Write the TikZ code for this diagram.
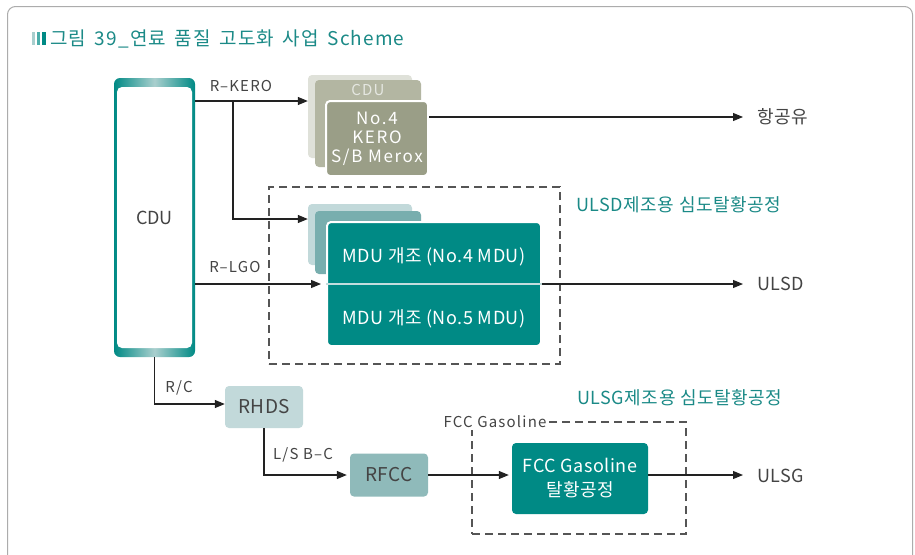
\documentclass[tikz,border=0pt]{standalone}
\usepackage{fontspec}
\setmainfont{Noto Sans CJK KR}
\newfontfamily\fLbl{Noto Sans CJK KR}[LetterSpace=8]
\newfontfamily\fMid{Noto Sans CJK KR}[LetterSpace=3]
\newfontfamily\fTitle{Noto Sans CJK KR}[LetterSpace=6,WordSpace=1.6]
\newfontfamily\fKero{Noto Sans CJK KR}[LetterSpace=10]
\usetikzlibrary{arrows.meta}
\definecolor{tealD}{HTML}{008A85}
\definecolor{tealT}{HTML}{1B8A87}
\definecolor{tealL}{HTML}{A9CFCE}
\definecolor{mback}{HTML}{C2D9DA}
\definecolor{mmid}{HTML}{78AEAE}
\definecolor{kback}{HTML}{DFE1D9}
\definecolor{kmid}{HTML}{B3B6A2}
\definecolor{kfront}{HTML}{9A9E87}
\definecolor{rfccC}{HTML}{8FBABA}
\definecolor{txt}{HTML}{444444}
\definecolor{lineC}{HTML}{222222}
\definecolor{dashC}{HTML}{555555}
\begin{document}
\begin{tikzpicture}[x=1pt,y=-1pt,
  box/.style={rectangle, rounded corners=4pt, inner sep=0pt, align=center},
  whitebox/.style={box, draw=white, line width=2pt, text=white},
  lbl/.style={inner sep=0pt, text=txt, font=\fLbl\fontsize{15}{17}\selectfont},
  outlbl/.style={inner sep=0pt, anchor=west, text=txt, font=\fMid\fontsize{18}{20}\selectfont},
  grplbl/.style={inner sep=0pt, anchor=west, text=tealT, font=\fMid\fontsize{18}{20}\selectfont},
  arr/.style={draw=lineC, line width=1.1pt, -{Triangle[length=10pt,width=8pt]}},
  grp/.style={draw=dashC, line width=1.1pt, dash pattern=on 8pt off 5pt, inner sep=0pt}]
\useasboundingbox (0,0) rectangle (915,554);
\fill[white] (0,0) rectangle (915,554);
% frame
\draw[draw=gray!65, line width=1pt, rounded corners=8pt] (7.5,560) -- (7.5,6.5) -- (912.5,6.5) -- (912.5,560);
% title
\fill[tealL] (32,32) rectangle (35,45);
\fill[tealD!70] (37,32) rectangle (40,45);
\fill[tealD] (42,32) rectangle (46,45);
\node[anchor=west, inner sep=0pt, text=tealT, font=\fTitle\fontsize{19}{21}\selectfont] (title) at (50,38.5) {그림 39\_연료 품질 고도화 사업 Scheme};
% CDU column
\node[box, rounded corners=6pt, minimum width=81pt, minimum height=279pt, left color=tealD, right color=tealD, middle color=tealL] (cdu) at (154.5,217.5) {};
\node[box, fill=white, rounded corners=5pt, minimum width=75pt, minimum height=261pt, text=txt, font=\fontsize{18}{20}\selectfont] (cduin) at (154.5,217.5) {CDU};
% kero stack
\node[box, fill=kback, minimum width=104pt, minimum height=83pt] (kback) at (360,116.5) {};
\node[box, fill=kmid, minimum width=106pt, minimum height=87pt] (kmid) at (368,123.5) {};
\node[inner sep=0pt, text=kback!80!white, font=\fLbl\fontsize{15}{17}\selectfont] (kmidlbl) at (368,90) {CDU};
\node[whitebox, fill=kfront, minimum width=102pt, minimum height=75pt, font=\fKero\fontsize{17}{19}\selectfont] (kfront) at (377,138.5) {No.4\\KERO\\S/B Merox};
% MDU stack
\node[grp, minimum width=291pt, minimum height=177pt] (ulsdgrp) at (414.5,275.5) {};
\node[box, fill=mback, minimum width=104pt, minimum height=61pt] (mback) at (360,234.5) {};
\node[box, fill=mmid, minimum width=106pt, minimum height=63pt] (mmid) at (368,242.5) {};
\node[whitebox, fill=tealD, minimum width=214pt, minimum height=124pt] (mfront) at (434,284) {};
\draw[draw=tealL!70!white, line width=1.5pt] (mfront.west) -- (mfront.east);
\node[inner sep=0pt, text=white, font=\fMid\fontsize{18}{20}\selectfont] (mdu4) at (434,257) {MDU 개조 (No.4 MDU)};
\node[inner sep=0pt, text=white, font=\fMid\fontsize{18}{20}\selectfont] (mdu5) at (434,319) {MDU 개조 (No.5 MDU)};
\node[grplbl] (ulsdlbl) at (576,205) {ULSD제조용 심도탈황공정};
% lower chain
\node[box, fill=mback, minimum width=78pt, minimum height=42pt, text=txt, font=\fMid\fontsize{19}{21}\selectfont] (rhds) at (264,407) {RHDS};
\node[box, fill=rfccC, minimum width=78pt, minimum height=43pt, text=txt, font=\fMid\fontsize{19}{21}\selectfont] (rfcc) at (389,475) {RFCC};
\node[grp, minimum width=214pt, minimum height=112pt] (ulsggrp) at (579,478) {};
\node[inner sep=2pt, fill=white, text=txt, font=\fLbl\fontsize{15}{17}\selectfont] (fccgrplbl) at (495,422) {FCC Gasoline};
\node[box, fill=tealD, text=white, minimum width=136pt, minimum height=71pt, font=\fMid\fontsize{18}{24}\selectfont] (fcc) at (580,478.5) {FCC Gasoline\\탈황공정};
\node[grplbl] (ulsglbl) at (577,398) {ULSG제조용 심도탈황공정};
% outputs
\node[outlbl] (jet) at (757,117) {항공유};
\node[outlbl] (ulsd) at (757,284) {ULSD};
\node[outlbl] (ulsg) at (757,476) {ULSG};
% connector labels
\node[lbl] (lkero) at (241,86) {R–KERO};
\node[lbl] (llgo) at (235,267) {R–LGO};
\node[lbl] (lrc) at (179,388) {R/C};
\node[lbl] (llsbc) at (303,455) {L/S B–C};
% connectors
\coordinate (kj) at (233,101);
\coordinate (mj) at (233,219);
\draw[arr] (cdu.east |- kj) -- (kback.west |- kj);
\draw[arr] (kj) -- (mj) -- (mj -| mback.west);
\draw[arr, shorten >=5pt] (cdu.east |- mfront.west) -- (mfront.west);
\draw[arr] (kfront.east |- jet.west) -- ([xshift=-14pt]jet.west);
\draw[arr] (mfront.east) -- ([xshift=-14pt]ulsd.west);
\draw[arr] (cdu.south) |- ([yshift=3pt]rhds.west);
\draw[arr, shorten >=3pt] (rhds.south) |- (rfcc.west);
\draw[arr, shorten >=3pt] (rfcc.east) -- (rfcc.east -| fcc.west);
\draw[arr] (fcc.east |- rfcc.east) -- ([xshift=-14pt]ulsg.west |- rfcc.east);
\end{tikzpicture}
\end{document}
